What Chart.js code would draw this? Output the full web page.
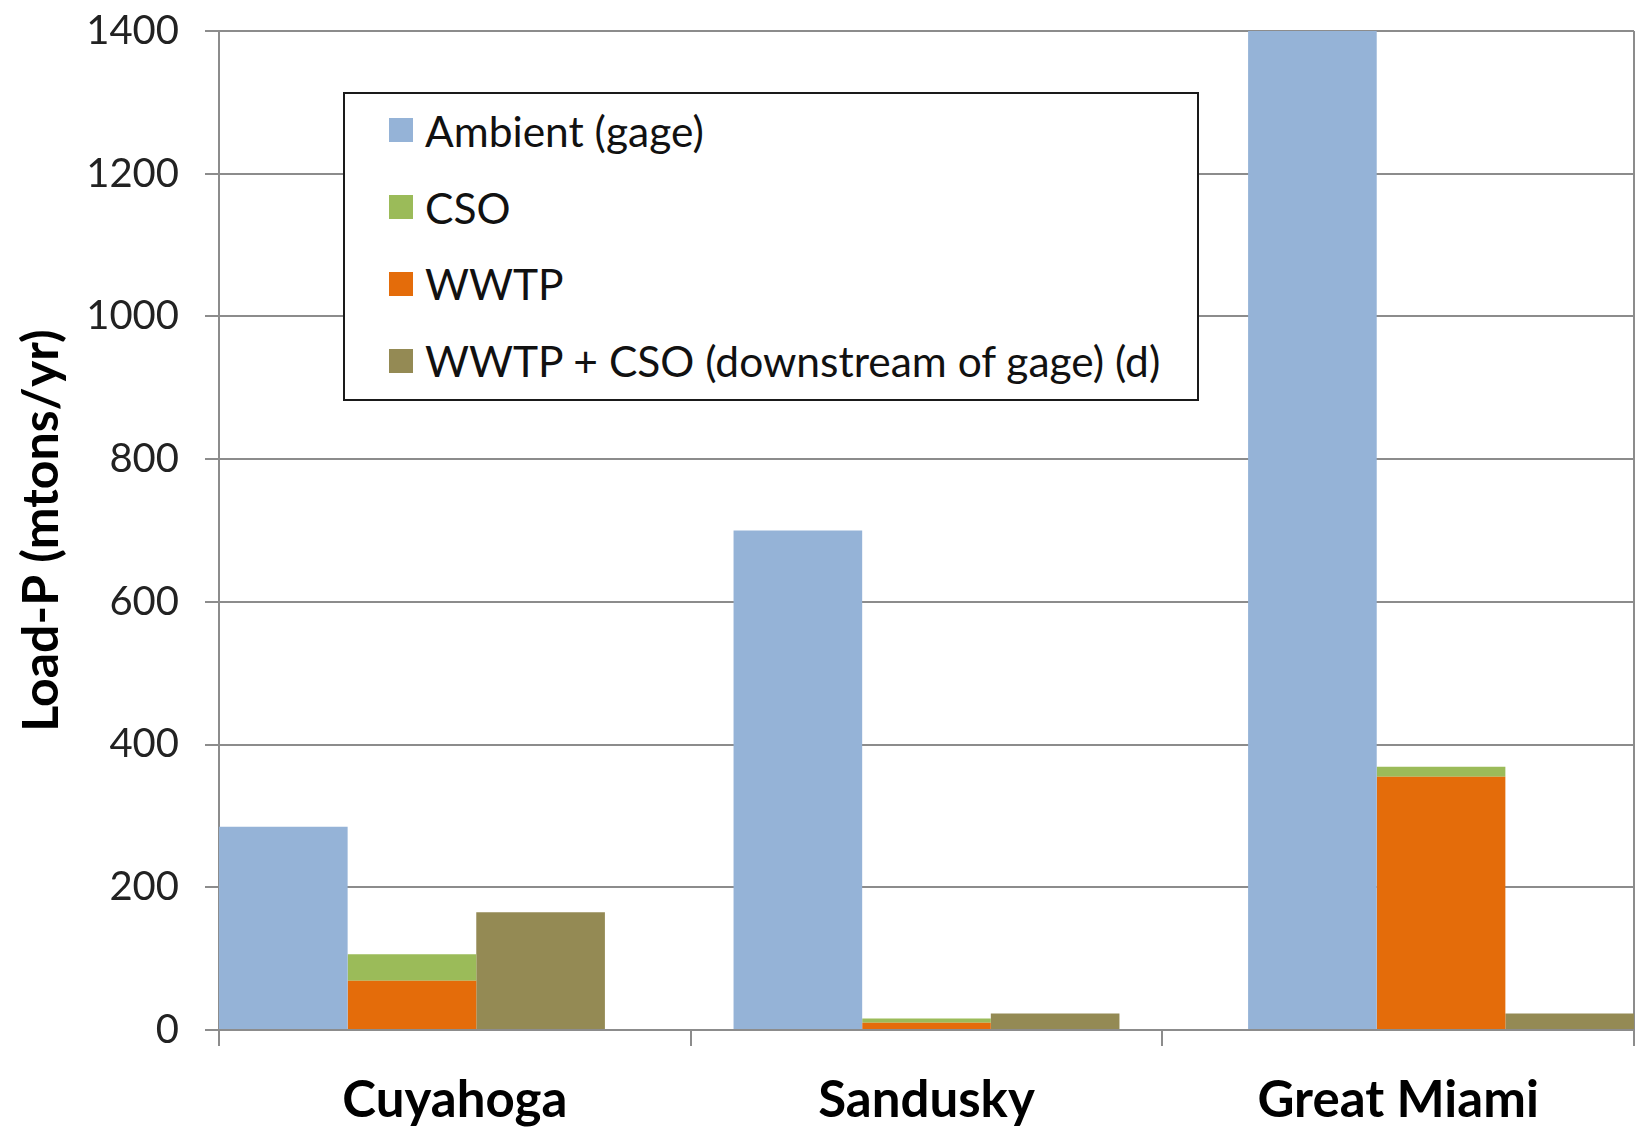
<!DOCTYPE html>
<html><head><meta charset="utf-8">
<script src="https://cdn.jsdelivr.net/npm/chart.js@4/dist/chart.umd.min.js"></script>
<style>
html,body{margin:0;padding:0;background:#fff;}
#wrap{position:relative;width:1635px;height:1128px;overflow:hidden;}
#legend{position:absolute;left:343px;top:92px;width:856px;height:309px;box-sizing:border-box;border:2px solid #1a1a1a;background:#fff;padding-left:44px;font-family:Lato,"Open Sans",sans-serif;font-size:42.5px;color:#111;}
#legend .row{height:76.8px;display:flex;align-items:center;white-space:nowrap;position:relative;top:-2px;}
#legend .sw{width:24px;height:24px;margin-right:12px;flex:none;}
</style></head>
<body><div id="wrap"><canvas id="c" width="1635" height="1128"></canvas><div id="legend"></div></div>
<script>
// ---- data ----
const categories = ['Cuyahoga', 'Sandusky', 'Great Miami'];
const seriesNames = ['Ambient (gage)', 'CSO', 'WWTP', 'WWTP + CSO (downstream of gage) (d)'];
const ambient    = [285, 700, 1400];
const cso        = [37, 6, 14];
const wwtp       = [69, 10, 355];
const downstream = [165, 23, 23];
const yTickValues = [0, 200, 400, 600, 800, 1000, 1200, 1400];
const yTickLabels = ['0', '200', '400', '600', '800', '1000', '1200', '1400'];

// ---- styles ----
const COLORS = ['#95B3D7', '#9BBB59', '#E46C0A', '#948A54'];
const GRID = '#8c8c8c';
const pts = arr => arr.map((v, i) => ({x: i, y: v}));

const datasets = [
  {label: seriesNames[0], data: pts(ambient),    backgroundColor: COLORS[0], stack: 's1', xAxisID: 'xb'},
  {label: seriesNames[2], data: pts(wwtp),       backgroundColor: COLORS[2], stack: 's2', xAxisID: 'xb'},
  {label: seriesNames[1], data: pts(cso),        backgroundColor: COLORS[1], stack: 's2', xAxisID: 'xb'},
  {label: seriesNames[3], data: pts(downstream), backgroundColor: COLORS[3], stack: 's3', xAxisID: 'xb'}
];

const chart = new Chart(document.getElementById('c'), {
  type: 'bar',
  data: {labels: categories, datasets},
  options: {
    responsive: false,
    animation: false,
    events: [],
    layout: {padding: {top: 31, right: 1, left: 0, bottom: 0}},
    plugins: {legend: {display: false}, tooltip: {enabled: false}},
    datasets: {bar: {categoryPercentage: 0.75, barPercentage: 1, borderWidth: 0}},
    scales: {
      x: {
        type: 'category', labels: categories, offset: true, position: 'bottom',
        grid: {offset: true, drawOnChartArea: true, lineWidth: 2, tickLength: 16,
               color: ctx => ctx.type === 'tick' ? 'rgba(0,0,0,0)' : GRID, tickColor: GRID},
        border: {color: GRID, width: 2},
        ticks: {font: {family: 'Lato', size: 51, weight: 'bold'}, color: '#000', padding: 24, maxRotation: 0, autoSkip: false},
        afterFit: s => { s.height = 98; s.paddingLeft = 0; s.paddingRight = 0; }
      },
      xb: {
        type: 'linear', display: false, min: -0.375, max: 2.375, offset: false,
        afterBuildTicks: s => { s.ticks = categories.map((c, i) => ({value: i})); }
      },
      y: {
        stacked: true, min: 0, max: 1400,
        afterBuildTicks: s => { s.ticks = yTickValues.map(v => ({value: v})); },
        grid: {color: GRID, lineWidth: 2, tickLength: 14, tickColor: GRID},
        border: {color: GRID, width: 2},
        ticks: {font: {family: 'Lato', size: 40}, color: '#222', padding: 26,
                callback: (v) => yTickLabels[yTickValues.indexOf(v)]},
        title: {display: true, text: 'Load-P (mtons/yr)', color: '#000',
                font: {family: 'Lato', size: 50, weight: 'bold'}, padding: {top: 12, bottom: 0}},
        afterFit: s => { s.width = 219; s.paddingTop = 0; s.paddingBottom = 0; }
      }
    }
  }
});

// ---- HTML legend (order as in the reference) ----
const legend = document.getElementById('legend');
seriesNames.forEach(name => {
  const ds = chart.data.datasets.find(d => d.label === name);
  const row = document.createElement('div');
  row.className = 'row';
  const sw = document.createElement('span');
  sw.className = 'sw';
  sw.style.background = ds.backgroundColor;
  const tx = document.createElement('span');
  tx.textContent = name;
  row.appendChild(sw); row.appendChild(tx);
  legend.appendChild(row);
});
</script>
</body></html>
